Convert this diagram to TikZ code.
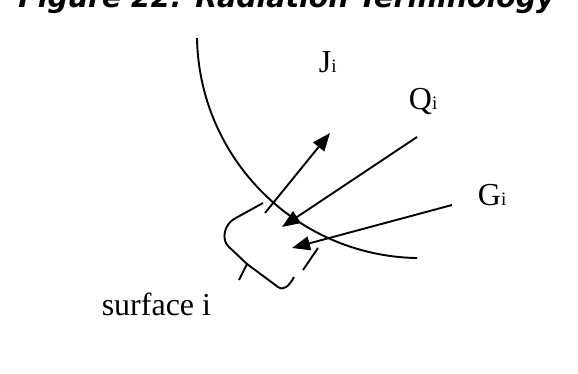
\documentclass[tikz,border=0pt]{standalone}
\usepackage{fontspec}
\setmainfont{Liberation Serif}
\newfontfamily\titlefont{DejaVu Sans}
\usetikzlibrary{arrows.meta}

\begin{document}
\begin{tikzpicture}[x=1pt, y=-1pt, line width=1.9pt,
    ray/.style={-{Triangle[length=18pt, width=14pt]}},
    lbl/.style={inner sep=0pt, font=\fontsize{32}{36}\selectfont}]
  \useasboundingbox (0,0) rectangle (578,374);
  % 見出し（上が切れている）
  \begin{scope}
    \clip (0,0) rectangle (578,374);
    \node[anchor=base, inner sep=0pt, font=\titlefont\bfseries\itshape\fontsize{28.4}{34}\selectfont] (title) at (286.5,8) {Figure 22: Radiation Terminology};
  \end{scope}
  % 面
  \draw (197,38) arc[start angle=179, end angle=91, radius=224];
  % 端点
  \coordinate (jtail) at (265,213);
  \coordinate (jtip) at (330,133);
  \coordinate (qstart) at (417,137);
  \coordinate (qtip) at (282,227);
  \coordinate (gstart) at (452,205);
  \coordinate (gtip) at (292,248);
  \coordinate (tickA) at (303,270);
  \coordinate (tickB) at (318,248);
  \draw[ray] (jtail) -- (jtip);
  \draw[ray] (qstart) -- (qtip);
  \draw[ray] (gstart) -- (gtip);
  \draw (tickA) -- (tickB);
  % 括弧
  \draw (263,203) -- (234,219) .. controls (224,225) and (221,240) .. (229,247) -- (247,264) -- (278,287) .. controls (284,291) and (289,286) .. (294,277);
  \draw (247,264) -- (239,280);
  % ラベル
  \node[lbl, anchor=base west] (jlabel) at (318,73) {J{\fontsize{19}{19}\selectfont i}};
  \node[lbl, anchor=base west] (qlabel) at (408,110) {Q{\fontsize{19}{19}\selectfont i}};
  \node[lbl, anchor=base west] (glabel) at (477,205) {G{\fontsize{19}{19}\selectfont i}};
  \node[lbl, anchor=base east] (surflabel) at (212,315) {surface i};
\end{tikzpicture}
\end{document}
